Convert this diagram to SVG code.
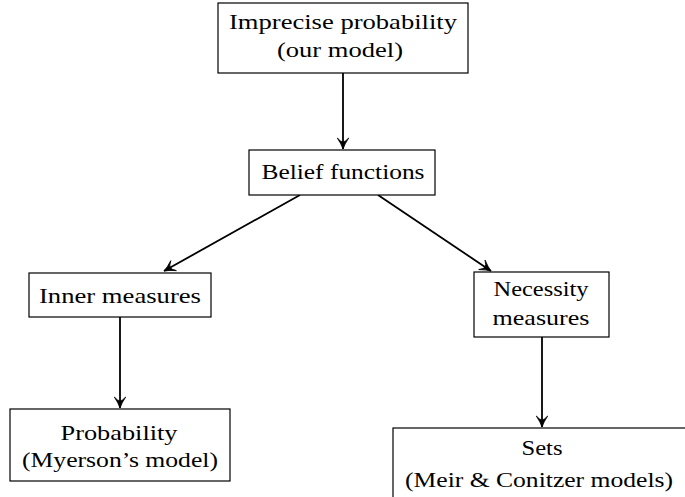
<svg xmlns="http://www.w3.org/2000/svg" width="685" height="497" viewBox="0 0 685 497">
<style>
.box{fill:#fff;stroke:#000;stroke-width:1.2}
.t{font-family:"Liberation Serif","DejaVu Serif",serif;font-size:21px;fill:#000;text-anchor:middle}
.c{fill:none;stroke:#000;stroke-width:1.8}
</style>
<defs>
<marker id="ah" markerUnits="userSpaceOnUse" markerWidth="16" markerHeight="14" refX="13" refY="7" orient="auto" overflow="visible">
<path d="M13,7 Q8,5.3 2,1.3 Q6,5 6,7 Q6,9 2,12.7 Q8,8.7 13,7 Z" fill="#000" stroke="#000" stroke-width="0.8" stroke-linejoin="round"/>
</marker>
</defs>
<rect width="685" height="497" fill="#fff"/>
<g id="connectors">
<line class="c" x1="343" y1="73" x2="343" y2="149" marker-end="url(#ah)"/>
<line class="c" x1="300" y1="195" x2="164" y2="271" marker-end="url(#ah)"/>
<line class="c" x1="378" y1="195" x2="491" y2="271" marker-end="url(#ah)"/>
<line class="c" x1="120" y1="317" x2="120" y2="408" marker-end="url(#ah)"/>
<line class="c" x1="542" y1="337" x2="542" y2="427" marker-end="url(#ah)"/>
</g>
<g id="imprecise">
<rect class="box" x="218" y="3" width="250" height="70"/>
<text class="t" x="343" y="29" textLength="228" lengthAdjust="spacingAndGlyphs">Imprecise probability</text>
<text class="t" x="340" y="57" textLength="126" lengthAdjust="spacingAndGlyphs">(our model)</text>
</g>
<g id="belief">
<rect class="box" x="249" y="150" width="186" height="45"/>
<text class="t" x="343" y="179" textLength="163" lengthAdjust="spacingAndGlyphs">Belief functions</text>
</g>
<g id="inner">
<rect class="box" x="29" y="273" width="182" height="44"/>
<text class="t" x="120" y="303" textLength="162" lengthAdjust="spacingAndGlyphs">Inner measures</text>
</g>
<g id="necessity">
<rect class="box" x="474" y="272" width="135" height="65"/>
<text class="t" x="541" y="296" textLength="95" lengthAdjust="spacingAndGlyphs">Necessity</text>
<text class="t" x="541" y="325" textLength="97" lengthAdjust="spacingAndGlyphs">measures</text>
</g>
<g id="probability">
<rect class="box" x="10" y="409" width="220" height="72"/>
<text class="t" x="119" y="440" textLength="117" lengthAdjust="spacingAndGlyphs">Probability</text>
<text class="t" x="120" y="467" textLength="196" lengthAdjust="spacingAndGlyphs">(Myerson’s model)</text>
</g>
<g id="sets">
<rect class="box" x="393" y="428" width="298" height="80"/>
<text class="t" x="542" y="455" textLength="41" lengthAdjust="spacingAndGlyphs">Sets</text>
<text class="t" x="539" y="487" textLength="268" lengthAdjust="spacingAndGlyphs">(Meir &amp; Conitzer models)</text>
</g>
</svg>
